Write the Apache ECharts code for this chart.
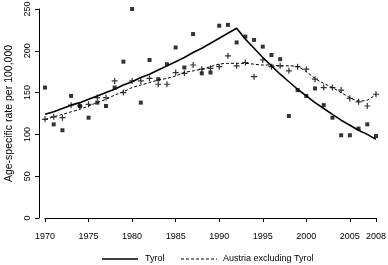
<!DOCTYPE html>
<html>
<head>
<meta charset="utf-8">
<script src="https://cdn.jsdelivr.net/npm/echarts@6/dist/echarts.min.js"></script>
<style>
  html, body { margin: 0; padding: 0; background: #fff; }
  #main { width: 388px; height: 265px; }
</style>
</head>
<body>
<div id="main"></div>
<script>
var years = [];
for (var y = 1970; y <= 2008; y++) years.push(y);

// observed rates
var tyrolRates = [156, 112, 105, 146, 134, 120, 138, 134, 156, 187,
  250, 138, 189, 166, 184, 204, 180, 220, 173, 174,
  230, 231, 210, 217, 213, 205, 195, 190, 122, 153,
  146, 155, 135, 120, 99, 99, 107, 112, 98];
var austriaRates = [118, 121, 120, 135, 134, 136, 144, 144, 164, 150,
  164, 164, 167, 160, 160, 174, 173, 183, 178, 179,
  181, 194, 182, 186, 169, 189, 181, 182, 176, 181,
  178, 166, 156, 156, 153, 143, 139, 134, 148];

// fitted trends
var tyrolFit = [124, 127, 131, 135, 138, 142, 146, 150, 154, 159,
  163, 168, 172, 177, 182, 187, 192, 198, 203, 209,
  215, 221, 227, 214, 203, 192, 182, 172, 163, 154,
  146, 138, 131, 124, 117, 111, 105, 100, 94];
var austriaFit = [118, 121, 124, 127, 130, 134, 138, 142, 147, 151,
  156, 159, 162, 165, 167, 170, 174, 176, 178, 181,
  184, 185, 185, 185, 184, 183, 183, 182, 182, 181,
  175, 167, 161, 156, 150, 144, 140, 141, 148];

var xTicks = [1970, 1975, 1980, 1985, 1990, 1995, 2000, 2005, 2008];
var legendNames = ['Tyrol', 'Austria excluding Tyrol'];

function pairs(vals) {
  return years.map(function (yr, i) { return [yr, vals[i]]; });
}

var font = 'Liberation Sans, Arial, sans-serif';
var plus = 'path://M4,0h2v4h4v2h-4v4h-2v-4h-4v-2h4z';

var chart = echarts.init(document.getElementById('main'));
chart.setOption({
  animation: false,
  grid: { left: 45, right: 12, top: 9, bottom: 47, containLabel: false, outerBoundsMode: 'none' },
  xAxis: {
    type: 'value', min: 1970, max: 2008, offset: 8,
    splitLine: { show: false },
    axisLine: { lineStyle: { color: '#000', width: 1 } },
    axisTick: { length: 4, customValues: xTicks, lineStyle: { color: '#000' } },
    axisLabel: {
      customValues: xTicks, margin: 6, fontFamily: font, fontSize: 9, color: '#000',
      formatter: function (v) { return String(v); }
    }
  },
  yAxis: {
    type: 'value', min: 0, max: 250, interval: 50, offset: 6,
    name: 'Age-specific rate per 100,000',
    nameLocation: 'middle', nameGap: 16, nameRotate: 90,
    nameTextStyle: { fontFamily: font, fontSize: 10.5, color: '#000' },
    splitLine: { show: false },
    axisLine: { show: true, lineStyle: { color: '#000', width: 1 } },
    axisTick: { show: true, length: 4, lineStyle: { color: '#000' } },
    axisLabel: { rotate: 90, margin: 7, fontFamily: font, fontSize: 9, color: '#000' }
  },
  graphic: [
    { type: 'line', shape: { x1: 102, y1: 259, x2: 138, y2: 259 },
      style: { stroke: '#000', lineWidth: 1.6 } },
    { type: 'text', x: 145, y: 259,
      style: { text: legendNames[0], font: '9px ' + font, fill: '#000', textVerticalAlign: 'middle' } },
    { type: 'line', shape: { x1: 181, y1: 259, x2: 217, y2: 259 },
      style: { stroke: '#000', lineWidth: 1, lineDash: [3, 2] } },
    { type: 'text', x: 223, y: 259,
      style: { text: legendNames[1], font: '9px ' + font, fill: '#000', textVerticalAlign: 'middle' } }
  ],
  series: [
    {
      name: 'Tyrol observed', type: 'scatter', symbol: 'rect', symbolSize: 4,
      itemStyle: { color: '#000' }, data: pairs(tyrolRates)
    },
    {
      name: 'Austria observed', type: 'scatter', symbol: plus, symbolSize: 6,
      itemStyle: { color: '#000' }, data: pairs(austriaRates)
    },
    {
      name: legendNames[0], type: 'line', symbol: 'none',
      lineStyle: { color: '#000', width: 1.6 },
      data: pairs(tyrolFit)
    },
    {
      name: legendNames[1], type: 'line', symbol: 'none', smooth: 0.3,
      lineStyle: { color: '#000', width: 1, type: [3, 2] },
      data: pairs(austriaFit)
    }
  ]
});
</script>
</body>
</html>
